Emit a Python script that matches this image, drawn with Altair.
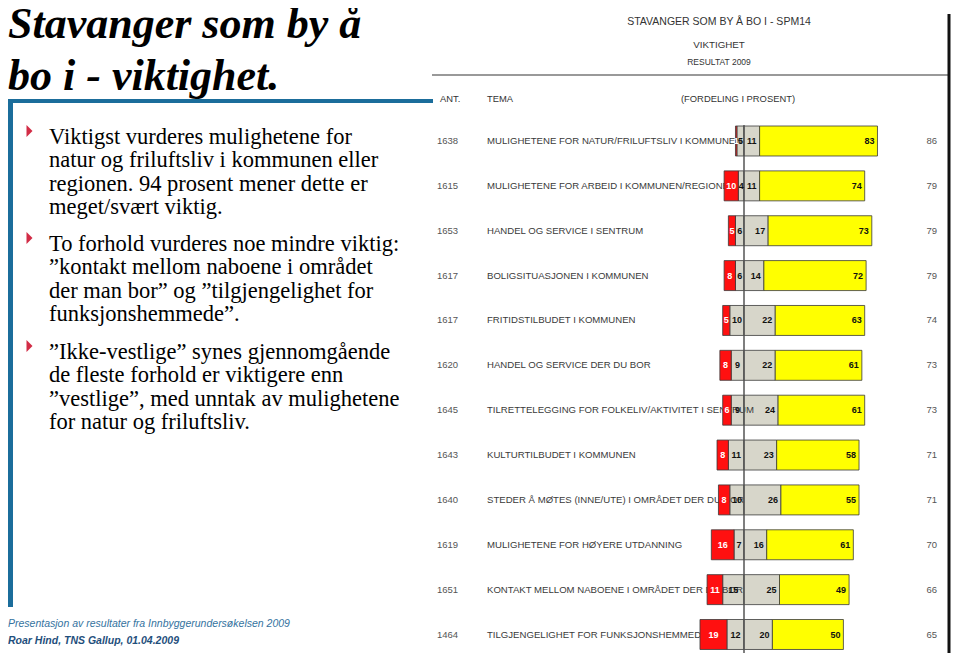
import altair as alt
import pandas as pd

# ---------------- data ----------------
ant = [1638, 1615, 1653, 1617, 1617, 1620, 1645, 1643, 1640, 1619, 1651, 1464]
tema = [
    "MULIGHETENE FOR NATUR/FRILUFTSLIV I KOMMUNEN",
    "MULIGHETENE FOR ARBEID I KOMMUNEN/REGIONEN",
    "HANDEL OG SERVICE I SENTRUM",
    "BOLIGSITUASJONEN I KOMMUNEN",
    "FRITIDSTILBUDET I KOMMUNEN",
    "HANDEL OG SERVICE DER DU BOR",
    "TILRETTELEGGING FOR FOLKELIV/AKTIVITET I SENTRUM",
    "KULTURTILBUDET I KOMMUNEN",
    "STEDER Å MØTES (INNE/UTE) I OMRÅDET DER DU BOR",
    "MULIGHETENE FOR HØYERE UTDANNING",
    "KONTAKT MELLOM NABOENE I OMRÅDET DER DU BOR",
    "TILGJENGELIGHET FOR FUNKSJONSHEMMEDE",
]
ikke_viktig = [1, 10, 5, 8, 5, 8, 6, 8, 8, 16, 11, 19]      # red
lite_viktig = [5, 4, 6, 6, 10, 9, 9, 11, 10, 7, 15, 12]      # light grey (left of zero)
noe_viktig = [11, 11, 17, 14, 22, 22, 24, 23, 26, 16, 25, 20]  # grey (right of zero)
svaert_viktig = [83, 74, 73, 72, 63, 61, 61, 58, 55, 61, 49, 50]  # yellow
score = [86, 79, 79, 79, 74, 73, 73, 71, 71, 70, 66, 65]

title_lines = ["Stavanger som by å", "bo i  - viktighet."]
bullet1 = ["Viktigst vurderes mulighetene for",
           "natur og friluftsliv i kommunen eller",
           "regionen. 94 prosent mener dette er",
           "meget/svært viktig."]
bullet2 = ["To forhold vurderes noe mindre viktig:",
           "\u201dkontakt mellom naboene i området",
           "der man bor\u201d og \u201dtilgjengelighet for",
           "funksjonshemmede\u201d."]
bullet3 = ["\u201dIkke-vestlige\u201d synes gjennomgående",
           "de fleste forhold er viktigere enn",
           "\u201dvestlige\u201d, med unntak av mulighetene",
           "for natur og friluftsliv."]
footer1 = "Presentasjon av resultater fra Innbyggerundersøkelsen 2009"
footer2 = "Roar Hind, TNS Gallup, 01.04.2009"
chart_titles = ["STAVANGER SOM BY Å BO I - SPM14", "VIKTIGHET", "RESULTAT 2009"]

# ---------------- tables ----------------
n = len(ant)
rows = pd.DataFrame({"row": list(range(n)), "ant": ant, "tema": tema, "score": score})

seg = []
for i in range(n):
    r, l, g, y = ikke_viktig[i], lite_viktig[i], noe_viktig[i], svaert_viktig[i]
    seg.append({"row": i, "cat": "ikke", "start": -(l + r), "end": -l, "val": r})
    seg.append({"row": i, "cat": "lite", "start": -l, "end": 0, "val": l})
    seg.append({"row": i, "cat": "noe", "start": 0, "end": g, "val": g})
    seg.append({"row": i, "cat": "svaert", "start": g, "end": g + y, "val": y})
segs = pd.DataFrame(seg)
segs["mid"] = (segs["start"] + segs["end"]) / 2

one = pd.DataFrame({"k": [0]})

xs = alt.Scale(domain=[0, 100], range=[736, 878], nice=False, zero=False)
ys = alt.Scale(domain=[0, 11], range=[133, 626.5], nice=False, zero=False)
cs = alt.Scale(domain=["ikke", "lite", "noe", "svaert"],
               range=["#ff1010", "#d7d6ca", "#d7d6ca", "#ffff00"])

SERIF = "Liberation Serif"
SANS = "Liberation Sans"
BLUE = "#1b6d9b"

layers = []

# ---------------- slide decorations ----------------
layers.append(alt.Chart(one).mark_rect(color=BLUE).encode(
    x=alt.value(0), x2=alt.value(5), y=alt.value(91), y2=alt.value(599)))
layers.append(alt.Chart(one).mark_rule(color=BLUE, strokeWidth=4).encode(
    x=alt.value(0), x2=alt.value(425), y=alt.value(93)))
layers.append(alt.Chart(one).mark_rule(color="#777777", strokeWidth=1.5).encode(
    x=alt.value(424), x2=alt.value(942), y=alt.value(67)))
layers.append(alt.Chart(one).mark_rule(color="#111111", strokeWidth=3).encode(
    x=alt.value(941), y=alt.value(6), y2=alt.value(645)))

# title
layers.append(alt.Chart(one).mark_text(
    text=title_lines, font=SERIF, fontSize=44, fontWeight="bold", fontStyle="italic",
    align="left", baseline="alphabetic", lineHeight=52, color="#000000"
).encode(x=alt.value(0), y=alt.value(30)))

# bullets
for lines, yb, yt in [(bullet1, 136, 123), (bullet2, 243, 230), (bullet3, 351, 338)]:
    layers.append(alt.Chart(one).mark_text(
        text=lines, font=SERIF, fontSize=22.5, align="left", baseline="alphabetic",
        lineHeight=23.4, color="#000000"
    ).encode(x=alt.value(41), y=alt.value(yb)))
    layers.append(alt.Chart(one).mark_point(
        shape="M-0.5,-1L0.5,0L-0.5,1Z", filled=True, size=144, opacity=1,
        color="#d22c46", strokeWidth=0
    ).encode(x=alt.value(21.5), y=alt.value(yt)))

# footer
layers.append(alt.Chart(one).mark_text(
    text=footer1, font=SANS, fontSize=10.5, fontStyle="italic", align="left",
    baseline="alphabetic", color="#3573a0"
).encode(x=alt.value(0), y=alt.value(619)))
layers.append(alt.Chart(one).mark_text(
    text=footer2, font=SANS, fontSize=10.5, fontStyle="italic", fontWeight="bold",
    align="left", baseline="alphabetic", color="#1f4f7c"
).encode(x=alt.value(0), y=alt.value(636)))

# chart titles
for txt, yy, fs in zip(chart_titles, [14, 37, 54], [10.5, 9.8, 8.5]):
    layers.append(alt.Chart(one).mark_text(
        text=txt, font=SANS, fontSize=fs, align="center", baseline="middle", color="#333333"
    ).encode(x=alt.value(711), y=alt.value(yy)))

# column headers
for txt, xx, al in [("ANT.", 432, "left"), ("TEMA", 479, "left"),
                    ("(FORDELING I PROSENT)", 730, "center")]:
    layers.append(alt.Chart(one).mark_text(
        text=txt, font=SANS, fontSize=9.4, align=al, baseline="middle", color="#333333"
    ).encode(x=alt.value(xx), y=alt.value(91)))

# ---------------- bars ----------------
base_seg = alt.Chart(segs).transform_calculate(
    y0="datum.row - 0.334", y1="datum.row + 0.334")

bars_right = base_seg.transform_filter("datum.cat != 'ikke'").mark_rect(
    stroke="#3a3a3a", strokeWidth=0.8
).encode(
    x=alt.X("start:Q", scale=xs, axis=None),
    x2="end:Q",
    y=alt.Y("y0:Q", scale=ys, axis=None),
    y2="y1:Q",
    color=alt.Color("cat:N", scale=cs, legend=None),
)
layers.append(bars_right)

# row texts
layers.append(alt.Chart(rows).mark_text(
    font=SANS, fontSize=9.5, align="left", baseline="middle", color="#555555"
).encode(x=alt.value(429), y=alt.Y("row:Q", scale=ys, axis=None), text="ant:N"))
layers.append(alt.Chart(rows).mark_text(
    font=SANS, fontSize=9.6, align="left", baseline="middle", color="#3a3a3a"
).encode(x=alt.value(479), y=alt.Y("row:Q", scale=ys, axis=None), text="tema:N"))
layers.append(alt.Chart(rows).mark_text(
    font=SANS, fontSize=9.5, align="right", baseline="middle", color="#555555"
).encode(x=alt.value(929), y=alt.Y("row:Q", scale=ys, axis=None), text="score:N"))

bars_red = base_seg.transform_filter("datum.cat == 'ikke'").mark_rect(
    stroke="#3a3a3a", strokeWidth=0.8
).encode(
    x=alt.X("start:Q", scale=xs, axis=None),
    x2="end:Q",
    y=alt.Y("y0:Q", scale=ys, axis=None),
    y2="y1:Q",
    color=alt.Color("cat:N", scale=cs, legend=None),
)
layers.append(bars_red)

# zero line
layers.append(alt.Chart(one).mark_rule(color="#555555", strokeWidth=1.5).encode(
    x=alt.X(datum=0, scale=xs, axis=None), y=alt.value(117), y2=alt.value(645)))

# value labels
layers.append(alt.Chart(segs).transform_filter("datum.cat == 'ikke'").mark_text(
    font=SANS, fontSize=9, fontWeight="bold", align="center", baseline="middle", color="#ffffff"
).encode(x=alt.X("mid:Q", scale=xs, axis=None), y=alt.Y("row:Q", scale=ys, axis=None),
         text="val:N"))
layers.append(alt.Chart(segs).transform_filter("datum.cat == 'lite'").mark_text(
    font=SANS, fontSize=9, fontWeight="bold", align="center", baseline="middle", color="#111111"
).encode(x=alt.X("mid:Q", scale=xs, axis=None), y=alt.Y("row:Q", scale=ys, axis=None),
         text="val:N"))
layers.append(alt.Chart(segs).transform_filter("datum.cat == 'noe' || datum.cat == 'svaert'").mark_text(
    font=SANS, fontSize=9, fontWeight="bold", align="right", baseline="middle", color="#111111",
    dx=-3
).encode(x=alt.X("end:Q", scale=xs, axis=None), y=alt.Y("row:Q", scale=ys, axis=None),
         text="val:N"))

chart = alt.layer(*layers).properties(
    width=944, height=645, padding=0, autosize="none", background="#ffffff"
).configure_view(stroke=None)

chart.save("out.html", embed_options={"renderer": "svg", "actions": False})
